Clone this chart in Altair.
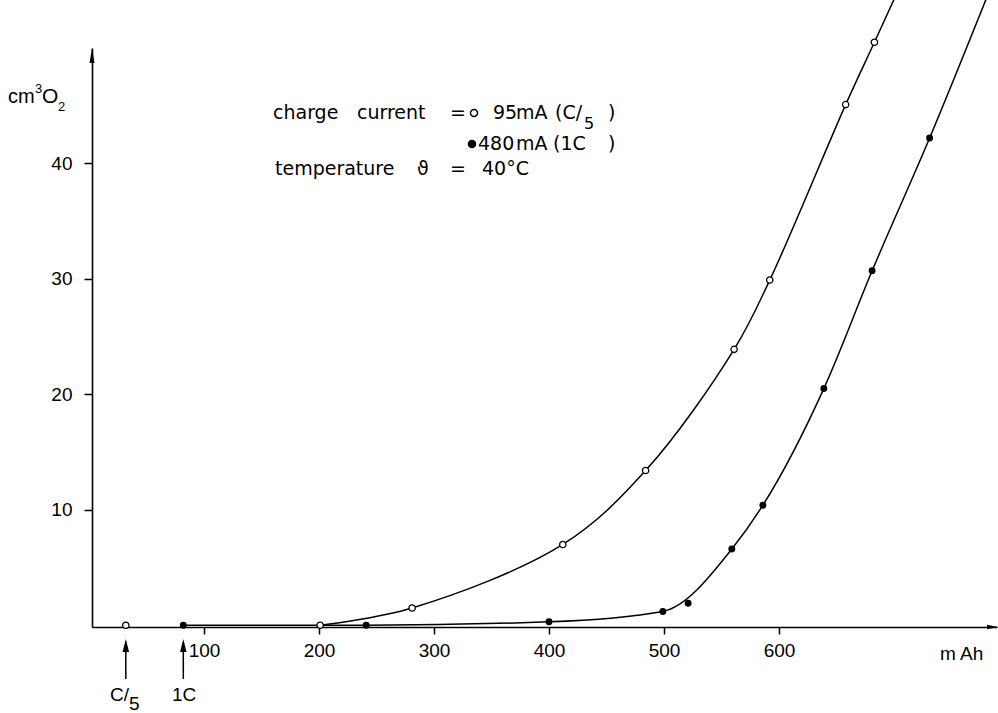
import altair as alt
import pandas as pd

# ---- data ----
# C/5 (95 mA) open circles
c5_mah = [32, 201, 281, 412, 484, 561, 592, 658, 683]
c5_o2 = [0, 0, 1.5, 7.0, 13.4, 23.9, 29.9, 45.1, 50.5]
# curve drawn through the C/5 points (rises from 200 mAh, continues to the top edge)
c5_curve_mah = [201, 281, 412, 484, 561, 592, 658, 683, 700]
c5_curve_o2 = [0, 1.5, 7.0, 13.4, 23.9, 29.9, 45.1, 50.5, 54.2]

# 1C (480 mA) filled circles
c1_mah = [82, 241, 400, 499, 521, 559, 586, 639, 681, 731]
c1_o2 = [0, 0, 0.3, 1.2, 1.9, 6.6, 10.4, 20.5, 30.7, 42.2]
# curve drawn through the 1C points (continues to the top edge)
c1_curve_mah = [82, 241, 400, 499, 559, 586, 639, 681, 731, 780]
c1_curve_o2 = [0, 0, 0.3, 1.2, 6.6, 10.4, 20.5, 30.7, 42.2, 54.2]

x_ticks = [100, 200, 300, 400, 500, 600]
y_ticks = [10, 20, 30, 40]
start_mah = [32, 82]  # start-of-charge markers C/5 and 1C

W, H = 905, 579
XDOM = [2.6, 789.6]
YDOM = [-0.15, 50]

LAB_FONT = "Liberation Sans"
TXT_FONT = "DejaVu Sans"

xs = alt.Scale(domain=XDOM, nice=False, zero=False)
ys = alt.Scale(domain=YDOM, nice=False, zero=False)

x_axis = alt.Axis(values=x_ticks, title=None, grid=False, tickSize=7, tickWidth=1.5,
                  tickColor="black", domainColor="black", domainWidth=1.6,
                  labelFont=LAB_FONT, labelFontSize=19, labelColor="black",
                  labelPadding=7)
y_axis = alt.Axis(values=y_ticks, title=None, grid=False, tickSize=8, tickWidth=1.5,
                  tickColor="black", domainColor="black", domainWidth=1.6,
                  labelFont=LAB_FONT, labelFontSize=19, labelColor="black",
                  labelPadding=12)

c5_pts = pd.DataFrame({"mah": c5_mah, "o2": c5_o2})
c1_pts = pd.DataFrame({"mah": c1_mah, "o2": c1_o2})
c5_line = pd.DataFrame({"mah": c5_curve_mah, "o2": c5_curve_o2})
c1_line = pd.DataFrame({"mah": c1_curve_mah, "o2": c1_curve_o2})
starts = pd.DataFrame({"mah": start_mah})

X = alt.X("mah:Q", scale=xs, axis=x_axis)
Y = alt.Y("o2:Q", scale=ys, axis=y_axis)

line5 = alt.Chart(c5_line).mark_line(interpolate="catmull-rom", color="black",
                                     strokeWidth=1.5, clip=False).encode(x=X, y=Y)
line1 = alt.Chart(c1_line).mark_line(interpolate="monotone", color="black",
                                     strokeWidth=1.5, clip=False).encode(
    x=alt.X("mah:Q", scale=xs), y=alt.Y("o2:Q", scale=ys))
pts5 = alt.Chart(c5_pts).mark_point(shape="circle", size=40, fill="white", stroke="black",
                                    strokeWidth=1.3, opacity=1, filled=False).encode(
    x=alt.X("mah:Q", scale=xs), y=alt.Y("o2:Q", scale=ys))
pts1 = alt.Chart(c1_pts).mark_circle(size=48, color="black", opacity=1).encode(
    x=alt.X("mah:Q", scale=xs), y=alt.Y("o2:Q", scale=ys))

# start markers below the axis (arrows)
arrow_shaft = alt.Chart(starts).mark_rule(color="black", strokeWidth=1.5).encode(
    x=alt.X("mah:Q", scale=xs), y=alt.value(597), y2=alt.value(631))
arrow_head = alt.Chart(starts).mark_point(shape="M0,-1L0.5,1L-0.5,1Z", size=169,
                                          filled=True, color="black", opacity=1).encode(
    x=alt.X("mah:Q", scale=xs), y=alt.value(597.5))

one = pd.DataFrame({"a": [0]})

# axis arrowheads
y_arrow = alt.Chart(one).mark_point(shape="M0,-1L0.33,1L-0.33,1Z", size=225, filled=True,
                                    color="black", opacity=1).encode(
    x=alt.value(0), y=alt.value(7.5))
x_arrow = alt.Chart(one).mark_point(shape="M1,0L-1,0.4L-1,-0.4Z", size=121, filled=True,
                                    color="black", opacity=1).encode(
    x=alt.value(900.5), y=alt.value(579))


def txt(s, x, y, size=19, font=TXT_FONT):
    return alt.Chart(one).mark_text(text=s, align="left", baseline="alphabetic", font=font,
                                    fontSize=size, color="black").encode(
        x=alt.value(x), y=alt.value(y))


texts = [
    # y-axis title cm3 O2
    txt("cm", -84, 55, 20, LAB_FONT),
    txt("3", -57, 45, 13, LAB_FONT),
    txt("O", -50, 55, 21, LAB_FONT),
    txt("2", -34, 63, 13, LAB_FONT),
    # legend block
    txt("charge", 181, 71),
    txt("current", 265, 71),
    txt("=", 358, 71),
    txt("95", 401, 71),
    txt("mA", 424, 71),
    txt("(C/", 463, 71),
    txt("5", 492, 81, 16),
    txt(")", 516, 71),
    txt("480", 386, 102),
    txt("mA", 424, 102),
    txt("(1C", 461, 102),
    txt(")", 516, 102),
    txt("temperature", 183, 127),
    txt("ϑ", 325, 127),
    txt("=", 358, 127),
    txt("40°C", 390, 127),
    # below-axis labels
    txt("C/", 18, 653, 19, LAB_FONT),
    txt("5", 37, 662, 19, LAB_FONT),
    txt("1C", 80, 653, 19, LAB_FONT),
    txt("m Ah", 848, 612, 19, LAB_FONT),
]

leg_open = alt.Chart(one).mark_point(shape="circle", size=50, fill="white", stroke="black",
                                     strokeWidth=1.4, opacity=1, filled=False).encode(
    x=alt.value(382), y=alt.value(65))
leg_fill = alt.Chart(one).mark_circle(size=75, color="black", opacity=1).encode(
    x=alt.value(380), y=alt.value(96))

chart = alt.layer(
    line5, line1, pts5, pts1, arrow_shaft, arrow_head, y_arrow, x_arrow,
    leg_open, leg_fill, *texts
).properties(
    width=W, height=H,
    autosize=alt.AutoSizeParams(type="none"),
    padding={"left": 92, "top": 48, "right": 1, "bottom": 86},
    background="white",
).configure_view(stroke=None)

chart.save("out.html", embed_options={"renderer": "svg", "actions": False})
